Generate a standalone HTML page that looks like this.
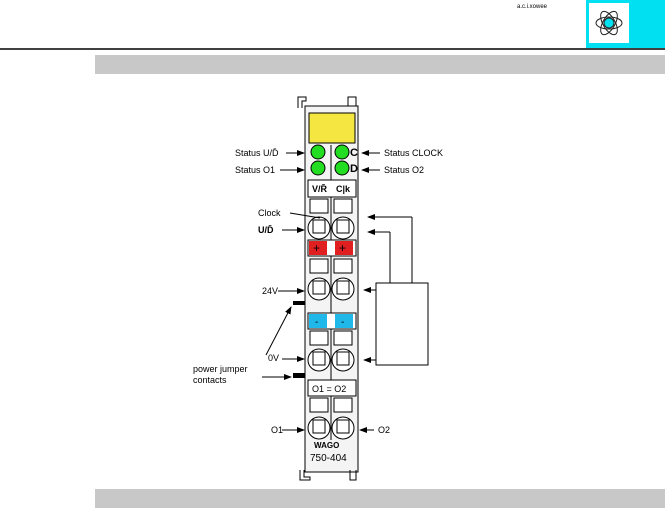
<!DOCTYPE html><html><head><style>body{margin:0;background:#fff}svg{display:block}text{font-family:"Liberation Sans",sans-serif;font-size:9px;fill:#000}</style></head><body>
<svg width="665" height="517" viewBox="0 0 665 517">
<defs><marker id="a" markerWidth="8" markerHeight="6" refX="7" refY="3" orient="auto"><path d="M0,0L8,3L0,6z" fill="#000"/></marker></defs>
<text x="517" y="8" style="font-size:6px">a.c.i.xowee</text>
<rect x="586" y="0" width="79" height="48" fill="#00e0f0"/>
<rect x="589" y="3" width="40" height="40" fill="#fff"/>
<g fill="none" stroke="#222" stroke-width="1"><ellipse cx="609" cy="23" rx="13" ry="6"/><ellipse cx="609" cy="23" rx="13" ry="6" transform="rotate(60 609 23)"/><ellipse cx="609" cy="23" rx="13" ry="6" transform="rotate(-60 609 23)"/></g>
<circle cx="609" cy="23" r="5" fill="#00e0f0" stroke="#222"/>
<line x1="0" y1="49" x2="665" y2="49" stroke="#000" stroke-width="1.5"/>
<rect x="95" y="55" width="570" height="19" fill="#c8c8c8"/>
<rect x="95" y="489" width="570" height="19" fill="#c8c8c8"/>
<g stroke="#000" fill="none" stroke-width="1">
<path d="M298,108V97h8v4h-4v7M348,108V97h8v11"/>
<rect x="305" y="106" width="53" height="366" fill="#f4f4f4"/>
<line x1="331" y1="145" x2="331" y2="440"/>
<path d="M300,470v10h10v-3h-6v-7M350,470v10h6v-10"/>
</g>
<rect x="309" y="113" width="46" height="30" fill="#f5e641" stroke="#000"/>
<g fill="#22dd22" stroke="#000"><circle cx="318" cy="152" r="7"/><circle cx="342" cy="152" r="7"/><circle cx="318" cy="168" r="7"/><circle cx="342" cy="168" r="7"/></g>
<text x="350" y="156" style="font-size:11px;font-weight:bold">C</text><text x="350" y="172" style="font-size:11px;font-weight:bold">D</text>
<g stroke="#000" fill="#fff"><rect x="308" y="180" width="48" height="17"/><rect x="308" y="380" width="48" height="16"/></g>
<text x="312" y="192" style="font-weight:bold">V/R̄</text><text x="336" y="192" style="font-weight:bold">C|k</text>
<text x="312" y="392">O1 = O2</text>
<rect x="308" y="240" width="48" height="16" fill="#fff" stroke="#000"/>
<rect x="309" y="241" width="18" height="14" fill="#e02020"/><rect x="335" y="241" width="18" height="14" fill="#e02020"/>
<text x="313" y="252" style="font-size:12px;fill:#000">+</text><text x="339" y="252" style="font-size:12px">+</text>
<rect x="308" y="313" width="48" height="16" fill="#fff" stroke="#000"/>
<rect x="309" y="314" width="18" height="14" fill="#20b8e8"/><rect x="335" y="314" width="18" height="14" fill="#20b8e8"/>
<text x="315" y="325" style="font-size:10px">-</text><text x="341" y="325" style="font-size:10px">-</text>
<g stroke="#000" fill="#fff">
<rect x="310" y="199" width="18" height="14"/><rect x="334" y="199" width="18" height="14"/><circle cx="319" cy="228" r="11"/><circle cx="343" cy="228" r="11"/>
<rect x="310" y="259" width="18" height="14"/><rect x="334" y="259" width="18" height="14"/><circle cx="319" cy="289" r="11"/><circle cx="343" cy="289" r="11"/>
<rect x="310" y="331" width="18" height="14"/><rect x="334" y="331" width="18" height="14"/><circle cx="319" cy="360" r="11"/><circle cx="343" cy="360" r="11"/>
<rect x="310" y="398" width="18" height="14"/><rect x="334" y="398" width="18" height="14"/><circle cx="319" cy="428" r="11"/><circle cx="343" cy="428" r="11"/>
<g fill="none"><rect x="313" y="220" width="12" height="13"/><rect x="337" y="220" width="12" height="13"/><rect x="313" y="281" width="12" height="13"/><rect x="337" y="281" width="12" height="13"/><rect x="313" y="352" width="12" height="13"/><rect x="337" y="352" width="12" height="13"/><rect x="313" y="420" width="12" height="13"/><rect x="337" y="420" width="12" height="13"/></g>
</g>
<text x="314" y="448" style="font-size:8px;font-weight:bold">WAGO</text>
<text x="310" y="461" style="font-size:10px">750-404</text>
<rect x="293" y="301" width="12" height="4" fill="#000"/><rect x="293" y="373" width="12" height="5" fill="#000"/>
<g stroke="#000" stroke-width="1" fill="none">
<line x1="286" y1="153" x2="304" y2="153" marker-end="url(#a)"/><line x1="280" y1="170" x2="304" y2="170" marker-end="url(#a)"/>
<line x1="290" y1="213" x2="320" y2="218"/>
<line x1="282" y1="230" x2="304" y2="230" marker-end="url(#a)"/><line x1="278" y1="291" x2="304" y2="291" marker-end="url(#a)"/>
<line x1="282" y1="359" x2="304" y2="359" marker-end="url(#a)"/><line x1="282" y1="430" x2="304" y2="430" marker-end="url(#a)"/>
<line x1="380" y1="153" x2="362" y2="153" marker-end="url(#a)"/><line x1="380" y1="170" x2="362" y2="170" marker-end="url(#a)"/>
<line x1="374" y1="430" x2="360" y2="430" marker-end="url(#a)"/>
<line x1="412" y1="217" x2="368" y2="217" marker-end="url(#a)"/><line x1="412" y1="217" x2="412" y2="283"/>
<line x1="390" y1="232" x2="368" y2="232" marker-end="url(#a)"/><line x1="390" y1="232" x2="390" y2="283"/>
<rect x="376" y="283" width="52" height="82"/>
<line x1="376" y1="290" x2="364" y2="290" marker-end="url(#a)"/><line x1="376" y1="360" x2="364" y2="360" marker-end="url(#a)"/>
<line x1="266" y1="355" x2="291" y2="307" marker-end="url(#a)"/><line x1="262" y1="377" x2="291" y2="377" marker-end="url(#a)"/>
</g>
<text x="235" y="156">Status U/D̄</text><text x="235" y="173">Status O1</text>
<text x="258" y="216">Clock</text><text x="258" y="233" style="font-weight:bold">U/D̄</text>
<text x="262" y="294">24V</text><text x="268" y="361">0V</text>
<text x="193" y="372">power jumper</text><text x="193" y="383">contacts</text>
<text x="271" y="433">O1</text>
<text x="384" y="156">Status CLOCK</text><text x="384" y="173">Status O2</text>
<text x="378" y="433">O2</text>
</svg></body></html>
